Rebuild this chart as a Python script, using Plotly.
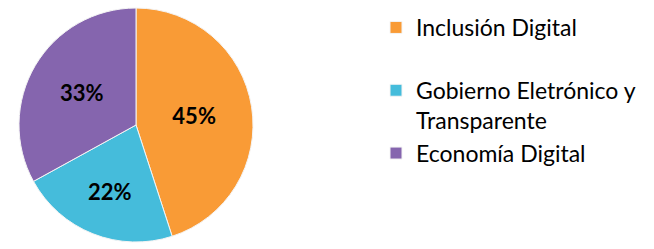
import plotly.graph_objects as go

labels = ["Inclusión Digital<br> ", "Gobierno Eletrónico y<br>Transparente", "Economía Digital"]
values = [45, 22, 33]
colors = ["#F99B36", "#45BCDB", "#8565AE"]

fig = go.Figure(go.Pie(
    labels=labels,
    values=values,
    sort=False,
    direction="clockwise",
    rotation=0,
    marker=dict(colors=colors, line=dict(color="#f4f4f4", width=1)),
    textinfo="percent",
    texttemplate="%{percent:.0%}",
    textposition="inside",
    insidetextorientation="horizontal",
    textfont=dict(family="Lato", size=22, color="#000000", weight="bold"),
    domain=dict(x=[(136 - 117) / 654, (136 + 117) / 654], y=[(124 - 117) / 249, (124 + 117) / 249]),
))

fig.update_layout(
    width=654, height=249,
    margin=dict(l=0, r=0, t=0, b=0),
    paper_bgcolor="white",
    plot_bgcolor="white",
    showlegend=True,
    legend=dict(
        x=376 / 654, y=1.0 - 6 / 249, xanchor="left", yanchor="top",
        valign="top",
        font=dict(family="Lato", size=23, color="#000000"),
        bgcolor="rgba(0,0,0,0)",
    ),
)

fig.write_html("out.html", config={"displayModeBar": False},
               post_script="document.body.style.margin='0';")
